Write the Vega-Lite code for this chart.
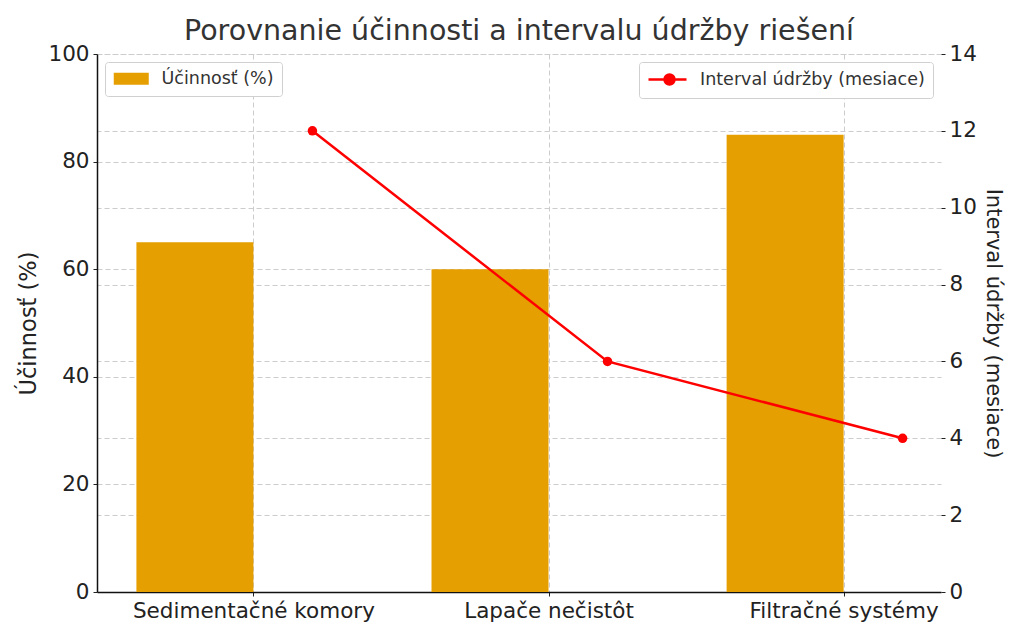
{
  "$schema": "https://vega.github.io/schema/vega-lite/v6.json",
  "width": 844,
  "height": 538,
  "autosize": "none",
  "padding": {"left": 97, "top": 54, "right": 83, "bottom": 48},
  "background": "white",
  "title": {
    "text": "Porovnanie účinnosti a intervalu údržby riešení",
    "font": "DejaVu Sans",
    "fontSize": 28.5,
    "fontWeight": "normal",
    "color": "#333333",
    "anchor": "middle",
    "offset": -2
  },
  "data": {
    "values": [
      {"riesenie": "Sedimentačné komory", "poradie": 0, "ucinnost": 65, "interval": 12},
      {"riesenie": "Lapače nečistôt", "poradie": 1, "ucinnost": 60, "interval": 6},
      {"riesenie": "Filtračné systémy", "poradie": 2, "ucinnost": 85, "interval": 4}
    ]
  },
  "config": {
    "view": {"stroke": null},
    "axis": {
      "labelFont": "DejaVu Sans",
      "labelFontSize": 21.5,
      "labelColor": "#222222",
      "labelLimit": 400,
      "titleFont": "DejaVu Sans",
      "titleFontSize": 21.5,
      "titleFontWeight": "normal",
      "titleColor": "#222222",
      "gridColor": "#cccccc",
      "gridDash": [5, 3],
      "gridWidth": 1,
      "tickColor": "#222222",
      "tickSize": 4,
      "labelPadding": 4
    },
    "legend": {
      "labelFont": "DejaVu Sans",
      "labelFontSize": 17.5,
      "labelColor": "#333333",
      "labelLimit": 400,
      "padding": 8,
      "cornerRadius": 3,
      "strokeColor": "#d0d0d0",
      "fillColor": "white",
      "offset": 8
    }
  },
  "layer": [
    {
      "mark": {"type": "bar", "orient": "vertical", "width": 117, "xOffset": -58.5},
      "encoding": {
        "x": {
          "field": "poradie",
          "type": "quantitative",
          "scale": {"domain": [-0.53, 2.33], "nice": false, "zero": false, "padding": 0},
          "axis": {
            "title": null,
            "values": [0, 1, 2],
            "labelExpr": "['Sedimentačné komory','Lapače nečistôt','Filtračné systémy'][datum.value]",
            "grid": true,
            "domainColor": "#111111",
            "domainWidth": 1.5,
            "labelFlush": false,
            "labelOverlap": false
          }
        },
        "y": {
          "field": "ucinnost",
          "type": "quantitative",
          "stack": null,
          "scale": {"domain": [0, 100], "nice": false},
          "axis": {
            "title": "Účinnosť (%)",
            "titleFontSize": 22.5,
            "orient": "left",
            "values": [0, 20, 40, 60, 80, 100],
            "grid": true,
            "domainColor": "#111111",
            "domainWidth": 1.5,
            "titlePadding": 7
          }
        },
        "fill": {
          "datum": "Účinnosť (%)",
          "type": "nominal",
          "scale": {"domain": ["Účinnosť (%)"], "range": ["#E69F00"]},
          "legend": {
            "orient": "top-left",
            "title": null,
            "symbolType": "M-1,-0.75H3.375V0.75H-1Z",
            "symbolSize": 256,
            "symbolStrokeWidth": 0,
            "labelOffset": 31
          }
        }
      }
    },
    {
      "encoding": {
        "x": {"field": "poradie", "type": "quantitative"},
        "y": {
          "field": "interval",
          "type": "quantitative",
          "scale": {"domain": [0, 14], "nice": false},
          "axis": {
            "title": "Interval údržby (mesiace)",
            "titleFontSize": 21,
            "orient": "right",
            "values": [0, 2, 4, 6, 8, 10, 12, 14],
            "grid": true,
            "domain": false,
            "titlePadding": 6
          }
        }
      },
      "layer": [
        {
          "mark": {"type": "line", "color": "red", "strokeWidth": 2.5, "xOffset": 59},
          "encoding": {
            "stroke": {
              "datum": "Interval údržby (mesiace)",
              "type": "nominal",
              "scale": {"domain": ["Interval údržby (mesiace)"], "range": ["red"]},
              "legend": {
                "orient": "top-right",
                "title": null,
                "symbolType": "M-1,0H3.75M1,0A0.625,0.625 0 1 1 2.25,0A0.625,0.625 0 1 1 1,0",
                "symbolSize": 256,
                "symbolStrokeWidth": 2.5,
                "symbolFillColor": "red",
                "labelOffset": 34
              }
            }
          }
        },
        {
          "mark": {"type": "point", "filled": true, "color": "red", "size": 90, "opacity": 1, "xOffset": 59},
          "encoding": {}
        }
      ]
    }
  ],
  "resolve": {"scale": {"y": "independent", "fill": "independent", "stroke": "independent"}}
}
